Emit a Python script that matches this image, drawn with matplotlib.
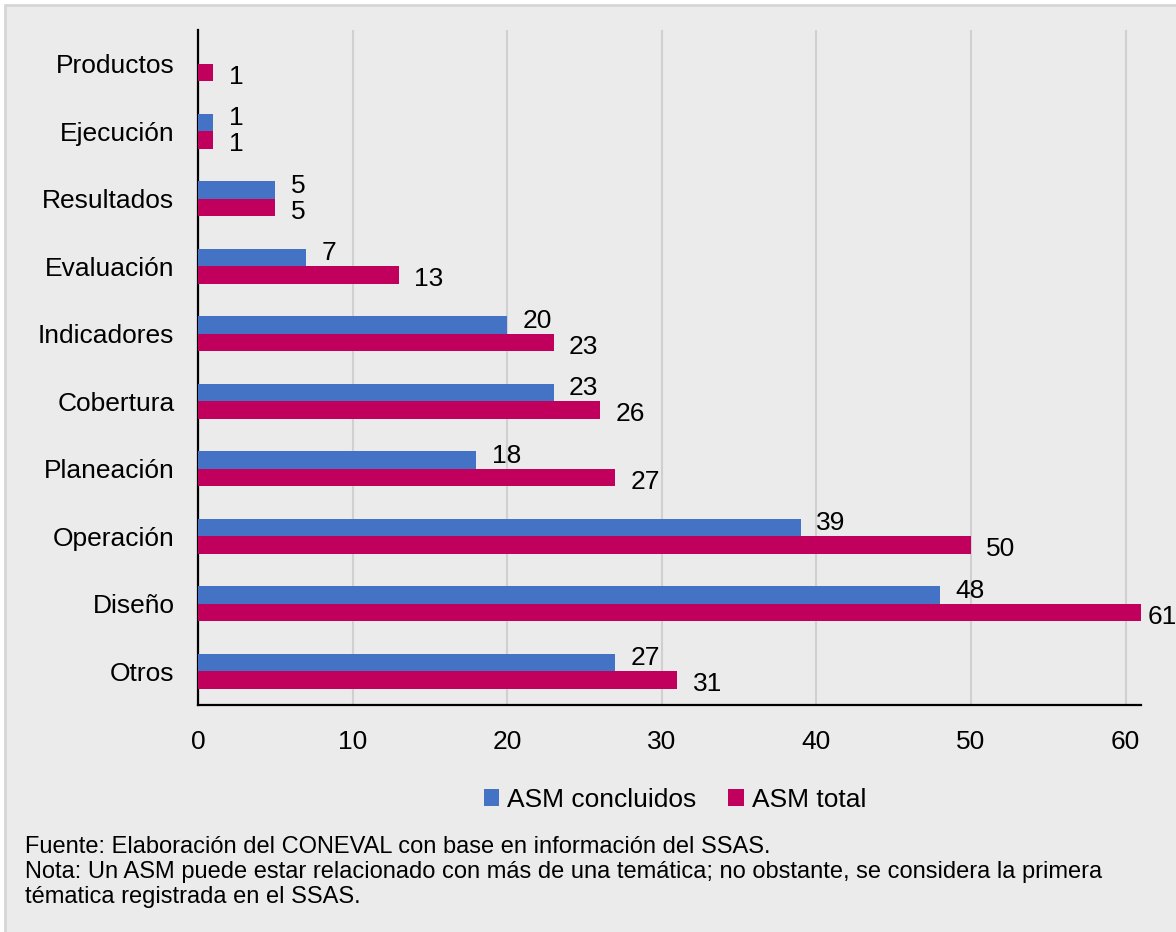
import numpy as np
import matplotlib.pyplot as plt
from matplotlib.patches import Rectangle

plt.rcParams['font.family'] = ['Liberation Sans', 'DejaVu Sans']

# Data (top to bottom)
categories = ['Productos', 'Ejecución', 'Resultados', 'Evaluación', 'Indicadores',
              'Cobertura', 'Planeación', 'Operación', 'Diseño', 'Otros']
concluidos = [0, 1, 5, 7, 20, 23, 18, 39, 48, 27]
total = [1, 1, 5, 13, 23, 26, 27, 50, 61, 31]
series_names = ['ASM concluidos', 'ASM total']
xticks = [0, 10, 20, 30, 40, 50, 60]

blue = '#4472c4'
magenta = '#c0005c'
bg = '#ebebeb'
fs = 19

fig = plt.figure(figsize=(11.76, 9.32), dpi=100)
fig.patch.set_facecolor('white')
fig.patches.append(Rectangle((5 / 1176, -0.01), 1.0, 1 - 5 / 932 + 0.01,
                             transform=fig.transFigure, facecolor=bg,
                             edgecolor='#d6d6d6', linewidth=2, zorder=-10))

ax = fig.add_axes([198 / 1176, 1 - 705 / 932, (1141 - 198) / 1176, 675 / 932])
ax.set_facecolor(bg)

y = np.arange(len(categories))
h = 0.26
ax.barh(y - h / 2, concluidos, height=h, color=blue, label=series_names[0], zorder=3)
ax.barh(y + h / 2, total, height=h, color=magenta, label=series_names[1], zorder=3)

xmax = 61
# value labels
for i in range(len(categories)):
    if concluidos[i] > 0:
        ax.annotate(str(concluidos[i]), (concluidos[i], y[i] - h / 2), xytext=(11, 3),
                    textcoords='offset points', va='center', ha='left', fontsize=fs)
    dx = 5 if total[i] >= xmax - 0.5 else 11
    ax.annotate(str(total[i]), (total[i], y[i] + h / 2), xytext=(dx, -3),
                textcoords='offset points', va='center', ha='left', fontsize=fs)

ax.set_ylim(len(categories) - 0.5, -0.5)
ax.set_xlim(0, xmax)
ax.set_yticks(y)
ax.set_yticklabels(categories, fontsize=fs)
ax.set_xticks(xticks)
ax.set_xticklabels([str(t) for t in xticks], fontsize=fs)
ax.tick_params(axis='both', length=0)
ax.tick_params(axis='x', pad=18)
ax.tick_params(axis='y', pad=17)
ax.xaxis.grid(True, color='#d0d0d0', linewidth=1.5, zorder=0)
ax.set_axisbelow(True)
for side in ['top', 'right']:
    ax.spines[side].set_visible(False)
ax.spines['left'].set_linewidth(1.6)
ax.spines['bottom'].set_linewidth(1.6)

fig.legend(loc='center', bbox_to_anchor=(675 / 1176, 1 - 800 / 932), ncol=2,
           frameon=False, fontsize=fs, handlelength=0.6, handleheight=0.6,
           handletextpad=0.3, columnspacing=1.2)

notes = ['Fuente: Elaboración del CONEVAL con base en información del SSAS.',
         'Nota: Un ASM puede estar relacionado con más de una temática; no obstante, se considera la primera',
         'tématica registrada en el SSAS.']
for k, line in enumerate(notes):
    fig.text(25 / 1176, 1 - (853 + 25 * k) / 932, line, fontsize=17, va='baseline', ha='left')

fig.savefig('out.png', dpi=100, facecolor=fig.get_facecolor())
